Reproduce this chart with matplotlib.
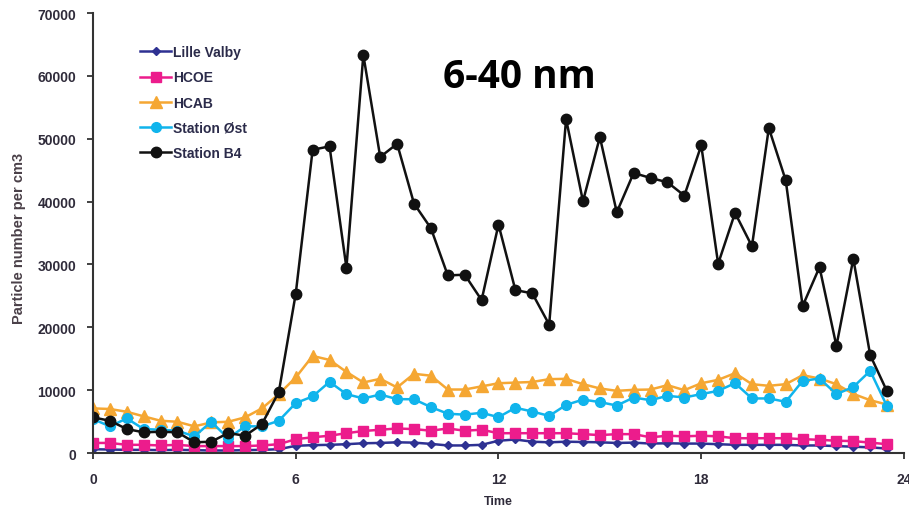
import matplotlib.pyplot as plt

# half-hourly time of day
hours = [0, 0.5, 1, 1.5, 2, 2.5, 3, 3.5, 4, 4.5, 5, 5.5,
         6, 6.5, 7, 7.5, 8, 8.5, 9, 9.5, 10, 10.5, 11, 11.5,
         12, 12.5, 13, 13.5, 14, 14.5, 15, 15.5, 16, 16.5, 17, 17.5,
         18, 18.5, 19, 19.5, 20, 20.5, 21, 21.5, 22, 22.5, 23, 23.5]

lille_valby = [600, 550, 500, 500, 450, 500, 450, 400, 400, 450, 500, 600,
               1150, 1250, 1300, 1400, 1550, 1600, 1700, 1650, 1450, 1200, 1200, 1300,
               1950, 2150, 1800, 1700, 1800, 1750, 1700, 1600, 1650, 1500, 1550, 1500,
               1500, 1400, 1300, 1300, 1300, 1300, 1200, 1200, 1100, 1000, 900, 700]

hcoe = [1600, 1600, 1300, 1300, 1200, 1300, 1100, 1100, 1100, 1100, 1200, 1400,
        2200, 2500, 2750, 3150, 3500, 3700, 3900, 3800, 3550, 3900, 3550, 3700,
        3150, 3150, 3150, 3150, 3150, 3000, 2850, 3000, 3000, 2500, 2750, 2650,
        2750, 2650, 2350, 2350, 2350, 2350, 2200, 2100, 1950, 1900, 1650, 1400]

hcab = [7100, 7000, 6560, 5830, 5130, 4970, 4240, 4870, 4970, 5670, 7100, 9370,
        12020, 15440, 14810, 12900, 11220, 11800, 10430, 12600, 12300, 10100, 10100, 10600,
        11100, 11200, 11300, 11750, 11800, 10950, 10270, 9890, 10050, 10100, 10790, 10000,
        11100, 11640, 12700, 10950, 10690, 10950, 12380, 11850, 10950, 9400, 8400, 7700]

station_ost = [5400, 4240, 5500, 3810, 3700, 3540, 2650, 4970, 2330, 4240, 4240, 5130,
               7940, 9000, 11320, 9370, 8680, 9300, 8570, 8550, 7300, 6250, 6100, 6400,
               5700, 7200, 6600, 5900, 7650, 8500, 8100, 7550, 8830, 8400, 9100, 8830,
               9370, 9890, 11110, 8680, 8680, 8150, 11480, 11850, 9370, 10500, 13070, 7410]

station_b4 = [5670, 5130, 3810, 3290, 3380, 3300, 1700, 1800, 3170, 2750, 4600, 9730,
              25350, 48250, 48780, 29470, 63330, 47100, 49200, 39680, 35760, 28250, 28370, 24330,
              36350, 25920, 25400, 20430, 53130, 40050, 50270, 38300, 44550, 43760, 43070, 40950,
              48940, 30110, 38200, 32900, 51700, 43380, 23380, 29570, 17030, 30900, 15560, 9790]

x_ticks = [0, 6, 12, 18, 24]
y_ticks = [0, 10000, 20000, 30000, 40000, 50000, 60000, 70000]

text_col = '#2f2b3a'

fig = plt.figure(figsize=(9.09, 5.10), dpi=100)
ax = fig.add_axes([0.1023, 0.1098, 0.8922, 0.8627])

ax.plot(hours, lille_valby, color='#2e3192', marker='D', markersize=4.5, lw=1.8, label='Lille Valby')
ax.plot(hours, hcoe, color='#ec1c8c', marker='s', markersize=7, lw=1.8, label='HCOE')
ax.plot(hours, hcab, color='#f5a733', marker='^', markersize=8, lw=1.8, label='HCAB')
ax.plot(hours, station_ost, color='#10b4ec', marker='o', markersize=7, lw=1.8, label='Station Øst')
ax.plot(hours, station_b4, color='#111111', marker='o', markersize=7.5, lw=1.8, label='Station B4')

ax.set_xlim(0, 24)
ax.set_ylim(0, 70000)
ax.set_xticks(x_ticks)
ax.set_yticks(y_ticks)
ax.spines['top'].set_visible(False)
ax.spines['right'].set_visible(False)
for s in ('left', 'bottom'):
    ax.spines[s].set_linewidth(1.5)
    ax.spines[s].set_color('#333333')
ax.tick_params(direction='out', length=4, width=1.3, color='#333333',
               labelsize=10, labelcolor=text_col)
ax.tick_params(axis='x', pad=10)
ax.tick_params(axis='y', pad=8)
for lab in ax.get_xticklabels() + ax.get_yticklabels():
    lab.set_fontfamily('Liberation Sans')
    lab.set_fontweight('bold')

ax.set_xlabel('Time', fontfamily='Liberation Sans', fontweight='bold',
              fontsize=9, color=text_col, labelpad=6)
ax.set_ylabel('Particle number per cm3', fontfamily='Liberation Sans', fontweight='bold',
              fontsize=10.5, color='#4a4048', labelpad=8)
ax.yaxis.set_label_coords(-0.083, 0.49)

leg = ax.legend(loc='upper left', bbox_to_anchor=(0.043, 0.955), frameon=False,
                prop={'family': 'Liberation Sans', 'weight': 'bold', 'size': 10},
                handlelength=2.2, handletextpad=0.15, labelspacing=0.8)
for t in leg.get_texts():
    t.set_color('#2b2b4a')

fig.text(0.571, 0.848, '6-40 nm', fontfamily='Open Sans', fontweight='bold',
         fontsize=28, ha='center', va='center', color='black')

fig.savefig('out.png', dpi=100)
